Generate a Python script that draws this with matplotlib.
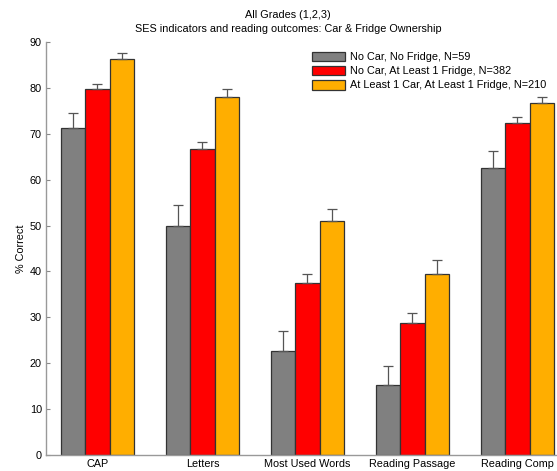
import matplotlib
matplotlib.use("Agg")
import matplotlib.pyplot as plt
import numpy as np

plt.rcParams['font.family'] = ['Liberation Sans', 'DejaVu Sans']

categories = ["CAP", "Letters", "Most Used Words", "Reading Passage", "Reading Comp"]
series_names = ["No Car, No Fridge, N=59",
                "No Car, At Least 1 Fridge, N=382",
                "At Least 1 Car, At Least 1 Fridge, N=210"]
no_car_no_fridge = [71.2, 49.9, 22.7, 15.3, 62.6]
no_car_fridge = [79.7, 66.7, 37.4, 28.8, 72.4]
car_fridge = [86.2, 78.0, 51.0, 39.5, 76.6]
err_no_car_no_fridge = [3.4, 4.6, 4.4, 4.0, 3.7]
err_no_car_fridge = [1.1, 1.6, 2.0, 2.2, 1.2]
err_car_fridge = [1.3, 1.8, 2.5, 3.1, 1.5]
yticks = [0, 10, 20, 30, 40, 50, 60, 70, 80, 90]

colors = ["#808080", "#ff0000", "#ffae00"]
fs = 7.8

fig = plt.figure(figsize=(5.57, 4.71), dpi=100)
ax = fig.add_axes([46/557, 16/471, (570-46)/557, (455-42)/471])

x = np.arange(1, len(categories) + 1)
w = 0.233
vals = [no_car_no_fridge, no_car_fridge, car_fridge]
errs = [err_no_car_no_fridge, err_no_car_fridge, err_car_fridge]
for i, (v, e, c, n) in enumerate(zip(vals, errs, colors, series_names)):
    pos = x + (i - 1) * w
    ax.bar(pos, v, width=w, color=c, edgecolor="#333333", linewidth=0.9, label=n, zorder=2)
    ax.errorbar(pos, v, yerr=[np.zeros(len(e)), e], fmt="none", ecolor="#555555",
                elinewidth=0.9, capsize=3.5, capthick=0.9, zorder=3)

ax.set_xlim(0.51, 5.5)
ax.set_ylim(0, 90)
ax.set_yticks(yticks)
ax.set_xticks(x)
ax.set_xticklabels(categories, fontsize=fs)
ax.tick_params(axis='y', direction='in', length=3, labelsize=fs, color="#888888", pad=3)
ax.tick_params(axis='x', length=0, labelsize=fs, pad=3)
for s in ["top", "right"]:
    ax.spines[s].set_visible(False)
for s in ["left", "bottom"]:
    ax.spines[s].set_color("#999999")
    ax.spines[s].set_linewidth(1.0)
ax.set_ylabel("% Correct", fontsize=fs, labelpad=3)

fig.text(288/557, 1 - 15/471, "All Grades (1,2,3)", ha="center", va="center", fontsize=fs)
fig.text(288/557, 1 - 29/471, "SES indicators and reading outcomes: Car & Fridge Ownership",
         ha="center", va="center", fontsize=fs)

leg = ax.legend(loc="upper left", bbox_to_anchor=(304/557, 1 - 44/471),
                bbox_transform=fig.transFigure, frameon=False, fontsize=fs,
                handlelength=3.1, handleheight=1.0, handletextpad=0.4,
                labelspacing=0.33, borderpad=0.2)

fig.savefig("out.png", dpi=100)
